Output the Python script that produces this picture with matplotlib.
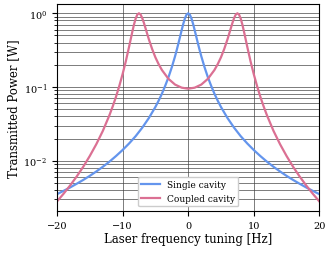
import matplotlib
matplotlib.use("Agg")
import matplotlib.pyplot as plt

plt.rcParams['font.family'] = ['DejaVu Serif']
plt.rcParams['mathtext.fontset'] = 'dejavuserif'

# Single cavity: detuning [Hz] and transmitted power [W]
single_f = [-20, -19, -18, -17, -16, -15, -14, -13, -12, -11, -10, -9, -8, -7, -6, -5,
            -4.5, -4, -3.5, -3, -2.5, -2, -1.75, -1.5, -1.25, -1, -0.75, -0.5, -0.25, 0,
            0.25, 0.5, 0.75, 1, 1.25, 1.5, 1.75, 2, 2.5, 3, 3.5, 4, 4.5,
            5, 6, 7, 8, 9, 10, 11, 12, 13, 14, 15, 16, 17, 18, 19, 20]
single_p = [0.00353, 0.00391, 0.00435, 0.00488, 0.00550, 0.00625, 0.00717, 0.00831,
            0.00974, 0.0116, 0.0140, 0.0172, 0.0216, 0.0281, 0.0379, 0.0536,
            0.0654, 0.0813, 0.104, 0.136, 0.185, 0.261, 0.316, 0.386, 0.475, 0.586,
            0.716, 0.850, 0.958, 1.0,
            0.958, 0.850, 0.716, 0.586, 0.475, 0.386, 0.316, 0.261, 0.185, 0.136,
            0.104, 0.0813, 0.0654, 0.0536, 0.0379, 0.0281, 0.0216, 0.0172, 0.0140,
            0.0116, 0.00974, 0.00831, 0.00717, 0.00625, 0.00550, 0.00488, 0.00435,
            0.00391, 0.00353]

# Coupled cavity
coupled_f = [-20, -19, -18, -17, -16, -15, -14, -13, -12, -11.5, -11, -10.5, -10, -9.5, -9,
             -8.75, -8.5, -8.25, -8, -7.75, -7.5, -7.25, -7, -6.75, -6.5, -6, -5.5,
             -5, -4.5, -4, -3, -2, -1, 0, 1, 2, 3, 4, 4.5, 5, 5.5, 6, 6.5, 6.75, 7,
             7.25, 7.5, 7.75, 8, 8.25, 8.5, 8.75, 9, 9.5, 10, 10.5, 11, 11.5, 12,
             13, 14, 15, 16, 17, 18, 19, 20]
coupled_p = [0.00281, 0.00357, 0.00462, 0.00611, 0.00828, 0.0116, 0.0168, 0.0255,
             0.0415, 0.0546, 0.0737, 0.103, 0.149, 0.224, 0.353, 0.448, 0.567, 0.707,
             0.849, 0.960, 1.0, 0.959, 0.861, 0.742, 0.627, 0.446, 0.329, 0.253,
             0.204, 0.170, 0.129, 0.108, 0.0981, 0.0949, 0.0981, 0.108, 0.129, 0.170,
             0.204, 0.253, 0.329, 0.446, 0.627, 0.742, 0.861, 0.959, 1.0, 0.960,
             0.849, 0.707, 0.567, 0.448, 0.353, 0.224, 0.149, 0.103, 0.0737, 0.0546,
             0.0415, 0.0255, 0.0168, 0.0116, 0.00828, 0.00611, 0.00462, 0.00357,
             0.00281]

series_labels = ['Single cavity', 'Coupled cavity']
colors = ['#6495ED', '#DB7093']

fig = plt.figure(figsize=(3.31, 2.55), dpi=100)
ax = fig.add_axes([0.172, 0.169, 0.793, 0.812])
ax.plot(single_f, single_p, color=colors[0], lw=1.6, label=series_labels[0])
ax.plot(coupled_f, coupled_p, color=colors[1], lw=1.6, label=series_labels[1])
ax.set_yscale('log')
ax.set_xlim(-20, 20)
ax.set_xticks([-20, -10, 0, 10, 20])
ax.grid(True, which='both', color='0.25', lw=0.6, alpha=0.8)
ax.set_axisbelow(True)
ax.tick_params(labelsize=7)
ax.set_xlabel('Laser frequency tuning [Hz]', fontsize=8.5, labelpad=2)
ax.set_ylabel('Transmitted Power [W]', fontsize=8.5, labelpad=2)
ax.legend(loc='lower center', fontsize=6.5, framealpha=1.0)
fig.savefig('out.png', dpi=100)
